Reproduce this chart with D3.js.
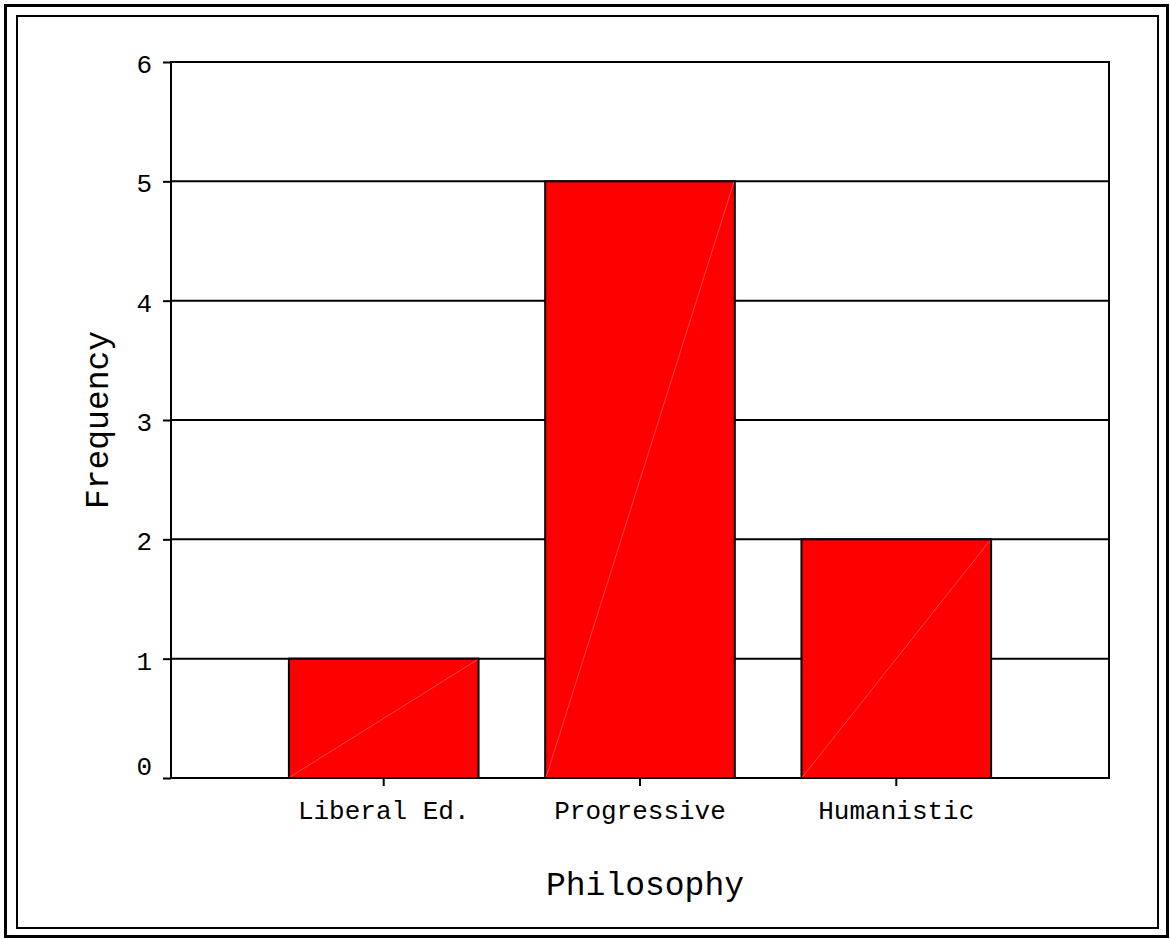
<!DOCTYPE html>
<html>
<head>
<meta charset="utf-8">
<script src="https://cdn.jsdelivr.net/npm/d3@7"></script>
<style>
  html, body { margin: 0; padding: 0; background: #fff; }
  svg { display: block; }
  text { font-family: "Liberation Mono", "Courier New", monospace; fill: #000; }
</style>
</head>
<body>
<div id="chart"></div>
<script>
// ── Data ────────────────────────────────────────────────────
const categories = ['Liberal Ed.', 'Progressive', 'Humanistic'];
const frequencies = [1, 5, 2];
const yTicks = [0, 1, 2, 3, 4, 5, 6];
const xTitle = 'Philosophy';
const yTitle = 'Frequency';

const W = 1170, H = 939;
const plot = { left: 171, right: 1109, top: 62, bottom: 778 };

const svg = d3.select('#chart').append('svg')
  .attr('width', W)
  .attr('height', H);

// ── Double frame ────────────────────────────────────────────
svg.append('rect')
  .attr('x', 5.5).attr('y', 5.5)
  .attr('width', 1162).attr('height', 931)
  .attr('fill', 'none').attr('stroke', '#000').attr('stroke-width', 3);
svg.append('rect')
  .attr('x', 17).attr('y', 16)
  .attr('width', 1141).attr('height', 912)
  .attr('fill', 'none').attr('stroke', '#000').attr('stroke-width', 2);

// ── Scales ──────────────────────────────────────────────────
const x = d3.scaleBand()
  .domain(categories)
  .range([plot.left, plot.right])
  .paddingInner(0.26)
  .paddingOuter(0.46);

const y = d3.scaleLinear()
  .domain([0, 6])
  .range([plot.bottom, plot.top]);

// ── Grid lines ──────────────────────────────────────────────
svg.append('g')
  .selectAll('line')
  .data(yTicks)
  .join('line')
  .attr('x1', plot.left).attr('x2', plot.right)
  .attr('y1', d => y(d)).attr('y2', d => y(d))
  .attr('stroke', '#000').attr('stroke-width', 2);

// ── Bars ────────────────────────────────────────────────────
const rows = categories.map((c, i) => ({ c, v: frequencies[i] }));

svg.append('g')
  .selectAll('rect')
  .data(rows)
  .join('rect')
  .attr('x', d => x(d.c))
  .attr('y', d => y(d.v))
  .attr('width', x.bandwidth())
  .attr('height', d => y(0) - y(d.v))
  .attr('fill', '#ff0000')
  .attr('stroke', '#000')
  .attr('stroke-width', 2);

// faint diagonal seam inside each bar
svg.append('g')
  .selectAll('line')
  .data(rows)
  .join('line')
  .attr('x1', d => x(d.c) + 1).attr('y1', y(0) - 1)
  .attr('x2', d => x(d.c) + x.bandwidth() - 1).attr('y2', d => y(d.v) + 1)
  .attr('stroke', '#ff5a5a').attr('stroke-width', 0.8);

// ── Plot frame ──────────────────────────────────────────────
svg.append('rect')
  .attr('x', plot.left).attr('y', plot.top)
  .attr('width', plot.right - plot.left)
  .attr('height', plot.bottom - plot.top)
  .attr('fill', 'none').attr('stroke', '#000').attr('stroke-width', 2);

// ── Y axis ticks + labels ──────────────────────────────────
const yAxis = svg.append('g')
  .attr('transform', `translate(${plot.left},0)`)
  .call(d3.axisLeft(y).tickValues(yTicks).tickSize(8).tickPadding(11).tickFormat(d3.format('d')));
yAxis.select('.domain').remove();
yAxis.selectAll('.tick line').attr('stroke', '#000').attr('stroke-width', 2);
yAxis.selectAll('.tick text')
  .attr('font-size', 26)
  .attr('font-family', '"Liberation Mono", "Courier New", monospace')
  .attr('dy', d => d === 0 ? '-0.12em' : '0.4em');

// ── X axis ticks + labels ──────────────────────────────────
const xAxis = svg.append('g')
  .attr('transform', `translate(0,${plot.bottom})`)
  .call(d3.axisBottom(x).tickSize(8).tickPadding(15));
xAxis.select('.domain').remove();
xAxis.selectAll('.tick line').attr('stroke', '#000').attr('stroke-width', 2);
xAxis.selectAll('.tick text')
  .attr('font-size', 26)
  .attr('font-family', '"Liberation Mono", "Courier New", monospace');

// ── Axis titles ─────────────────────────────────────────────
svg.append('text')
  .attr('x', (plot.left + plot.right) / 2 + 5)
  .attr('y', 895)
  .attr('text-anchor', 'middle')
  .attr('font-size', 33)
  .text(xTitle);

svg.append('text')
  .attr('transform', `translate(108,${(plot.top + plot.bottom) / 2}) rotate(-90)`)
  .attr('text-anchor', 'middle')
  .attr('font-size', 33)
  .text(yTitle);
</script>
</body>
</html>
